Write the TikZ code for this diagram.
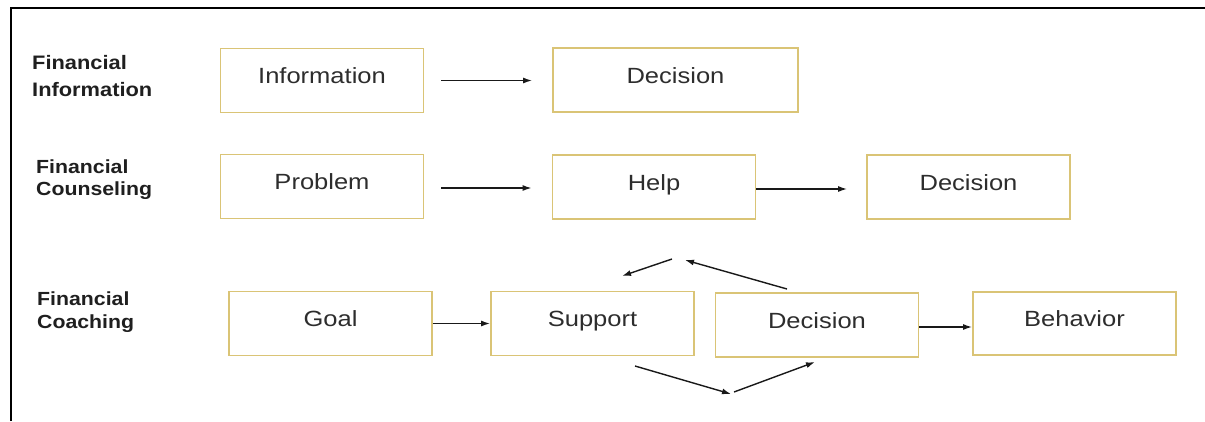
\documentclass[tikz,border=0pt]{standalone}
\usepackage{fontspec}
\setmainfont{Liberation Sans}
\newfontfamily\boxfont{Liberation Sans}[FakeStretch=1.16]
\newfontfamily\labfont{Liberation Sans}[FakeStretch=1.12]
\usetikzlibrary{arrows.meta}
\definecolor{boxgold}{RGB}{218,196,118}
\definecolor{txtgray}{RGB}{45,45,45}
\definecolor{arrgray}{RGB}{25,25,25}
\begin{document}
\begin{tikzpicture}[x=1pt,y=-1pt,
  box/.style={draw=boxgold, line width=1.8pt, inner sep=0pt,
    minimum width=203pt, minimum height=64pt,
    text height=16pt, text depth=10pt,
    font=\boxfont\fontsize{22}{26}\selectfont, text=txtgray},
  rowlabel/.style={anchor=north west, inner sep=0pt, align=left,
    text=black!88},
  arr/.style={draw=arrgray, line width=1.4pt, -{Latex[length=9pt,width=6pt]}}
]
\useasboundingbox (0,0) rectangle (1205,421);
\fill[white] (0,0) rectangle (1205,421);
% frame
\draw[line width=2pt, black] (11,421) -- (11,8) -- (1205,8);

% row labels
\node[rowlabel, font=\labfont\bfseries\fontsize{19.5}{27}\selectfont] (l1) at (32,55) {Financial\\Information};
\node[rowlabel, font=\labfont\bfseries\fontsize{19}{21.5}\selectfont] (l2) at (36,160) {Financial\\Counseling};
\node[rowlabel, font=\labfont\bfseries\fontsize{19}{23}\selectfont] (l3) at (37,292) {Financial\\Coaching};

% row 1
\node[box] (info) at (322,80.5) {Information};
\node[box, minimum width=245pt] (dec1) at (675.5,80) {Decision};
% row 2
\node[box] (prob) at (322,186.5) {Problem};
\node[box] (help) at (654,187) {Help};
\node[box] (dec2) at (968.5,187) {Decision};
% row 3
\node[box] (goal) at (330.5,323.5) {Goal};
\node[box] (supp) at (592.5,323.5) {Support};
\node[box] (dec3) at (817,325) {Decision};
\node[box, minimum height=63pt] (beh) at (1074.5,323.5) {Behavior};

% connectors
\draw[arr, shorten <=17pt, shorten >=20pt] (info.east) -- (dec1.west |- info.east);
\draw[arr, shorten <=17pt, shorten >=20pt] ([yshift=-1.5pt]prob.east) -- ([yshift=-1.5pt]prob.east -| help.west);
\draw[arr, shorten >=19pt] ([yshift=-2pt]help.east) -- ([yshift=-2pt]help.east -| dec2.west);
\draw[arr] (goal.east) -- (goal.east -| supp.west);
\draw[arr] ([yshift=-2pt]dec3.east) -- ([yshift=-2pt]dec3.east -| beh.west);

% feedback cycle
\coordinate (tl) at (622,276);
\coordinate (tm1) at (672,259);
\coordinate (tm2) at (685,260);
\coordinate (tr) at (787,289);
\coordinate (bl) at (635,366);
\coordinate (bm1) at (731,394);
\coordinate (bm2) at (734,392);
\coordinate (br) at (815,362);
\draw[arr] (tm1) -- (tl);
\draw[arr] (tr) -- (tm2);
\draw[arr] (bl) -- (bm1);
\draw[arr] (bm2) -- (br);
\end{tikzpicture}
\end{document}
